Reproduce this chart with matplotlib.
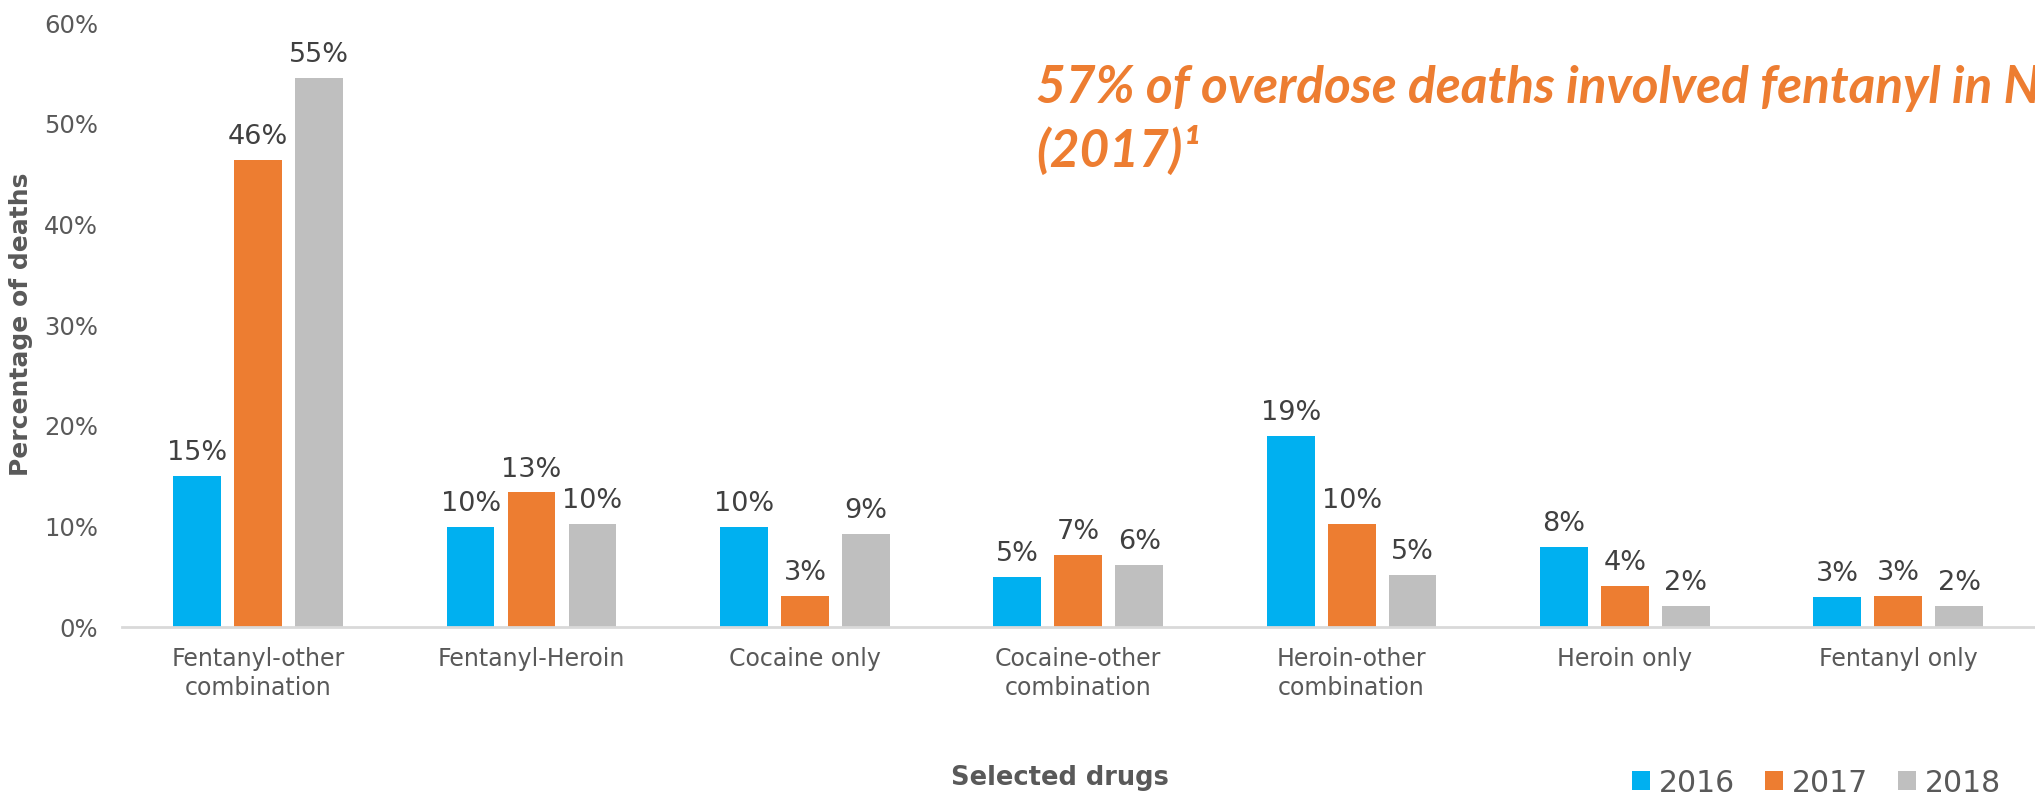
import matplotlib
matplotlib.use("Agg")
import matplotlib.pyplot as plt
from matplotlib.patches import Patch
import numpy as np

categories = ["Fentanyl-other\ncombination", "Fentanyl-Heroin", "Cocaine only",
              "Cocaine-other\ncombination", "Heroin-other\ncombination",
              "Heroin only", "Fentanyl only"]
years = ["2016", "2017", "2018"]
v2016 = [15.0, 10.0, 10.0, 5.0, 19.0, 8.0, 3.0]
v2017 = [46.4, 13.4, 3.1, 7.2, 10.3, 4.1, 3.1]
v2018 = [54.6, 10.3, 9.3, 6.2, 5.2, 2.1, 2.1]
colors = ["#00B0F0", "#ED7D31", "#BFBFBF"]
yticks = [0, 10, 20, 30, 40, 50, 60]

TXT = "#595959"
LBL = "#404040"

fig = plt.figure(figsize=(20.35, 8), dpi=100)
ax = fig.add_axes([121.5 / 2035, 0.216, 1 - 121.5 / 2035, 0.755])

x = np.arange(len(categories))
width = 0.175
pitch = 0.223
for i, (vals, c) in enumerate(zip([v2016, v2017, v2018], colors)):
    bars = ax.bar(x + (i - 1) * pitch, vals, width, color=c, zorder=2)
    for b, v in zip(bars, vals):
        ax.annotate(f"{v:.0f}%", (b.get_x() + b.get_width() / 2, v),
                    xytext=(0, 7), textcoords="offset points",
                    ha="center", va="bottom", fontsize=19.5, color=LBL)

ax.set_xlim(-0.5, len(categories) - 0.5)
ax.set_ylim(0, 60)
ax.set_yticks(yticks)
ax.set_yticklabels([f"{t}%" for t in yticks])
ax.set_xticks(x)
ax.set_xticklabels(categories, linespacing=1.3)
ax.tick_params(axis="y", length=0, pad=17, labelsize=17.5, labelcolor=TXT)
ax.tick_params(axis="x", length=0, pad=14, labelsize=17, labelcolor=TXT)
for s in ["top", "right", "left"]:
    ax.spines[s].set_visible(False)
ax.spines["bottom"].set_color("#D9D9D9")
ax.spines["bottom"].set_linewidth(2)

fig.text(21 / 2035, 0.594, "Percentage of deaths", rotation=90, ha="center",
         va="center", fontsize=18, fontweight="bold", color=TXT)
fig.text(1060 / 2035, 22 / 800, "Selected drugs", ha="center", va="center",
         fontsize=18.5, fontweight="bold", color=TXT)

handles = [Patch(facecolor=c, edgecolor="none") for c in colors]
fig.legend(handles, years, loc="center right",
           bbox_to_anchor=(2001 / 2035, 17 / 800), ncol=3, frameon=False,
           fontsize=21.5, labelcolor=TXT, handlelength=0.6, handleheight=0.6,
           handletextpad=0.3, columnspacing=1.0, borderpad=0, borderaxespad=0)

title_kw = dict(fontsize=37, fontweight="bold", style="italic",
                color="#ED7D31", family=["Lato", "DejaVu Sans"])
fig.text(1036 / 2035, 1 - 103 / 800,
         "57% of overdose deaths involved fentanyl in NYC",
         ha="left", va="baseline", **title_kw)
fig.text(1036 / 2035, 1 - 167 / 800, "(2017)\u00b9",
         ha="left", va="baseline", **title_kw)

fig.savefig("out.png", dpi=100)
